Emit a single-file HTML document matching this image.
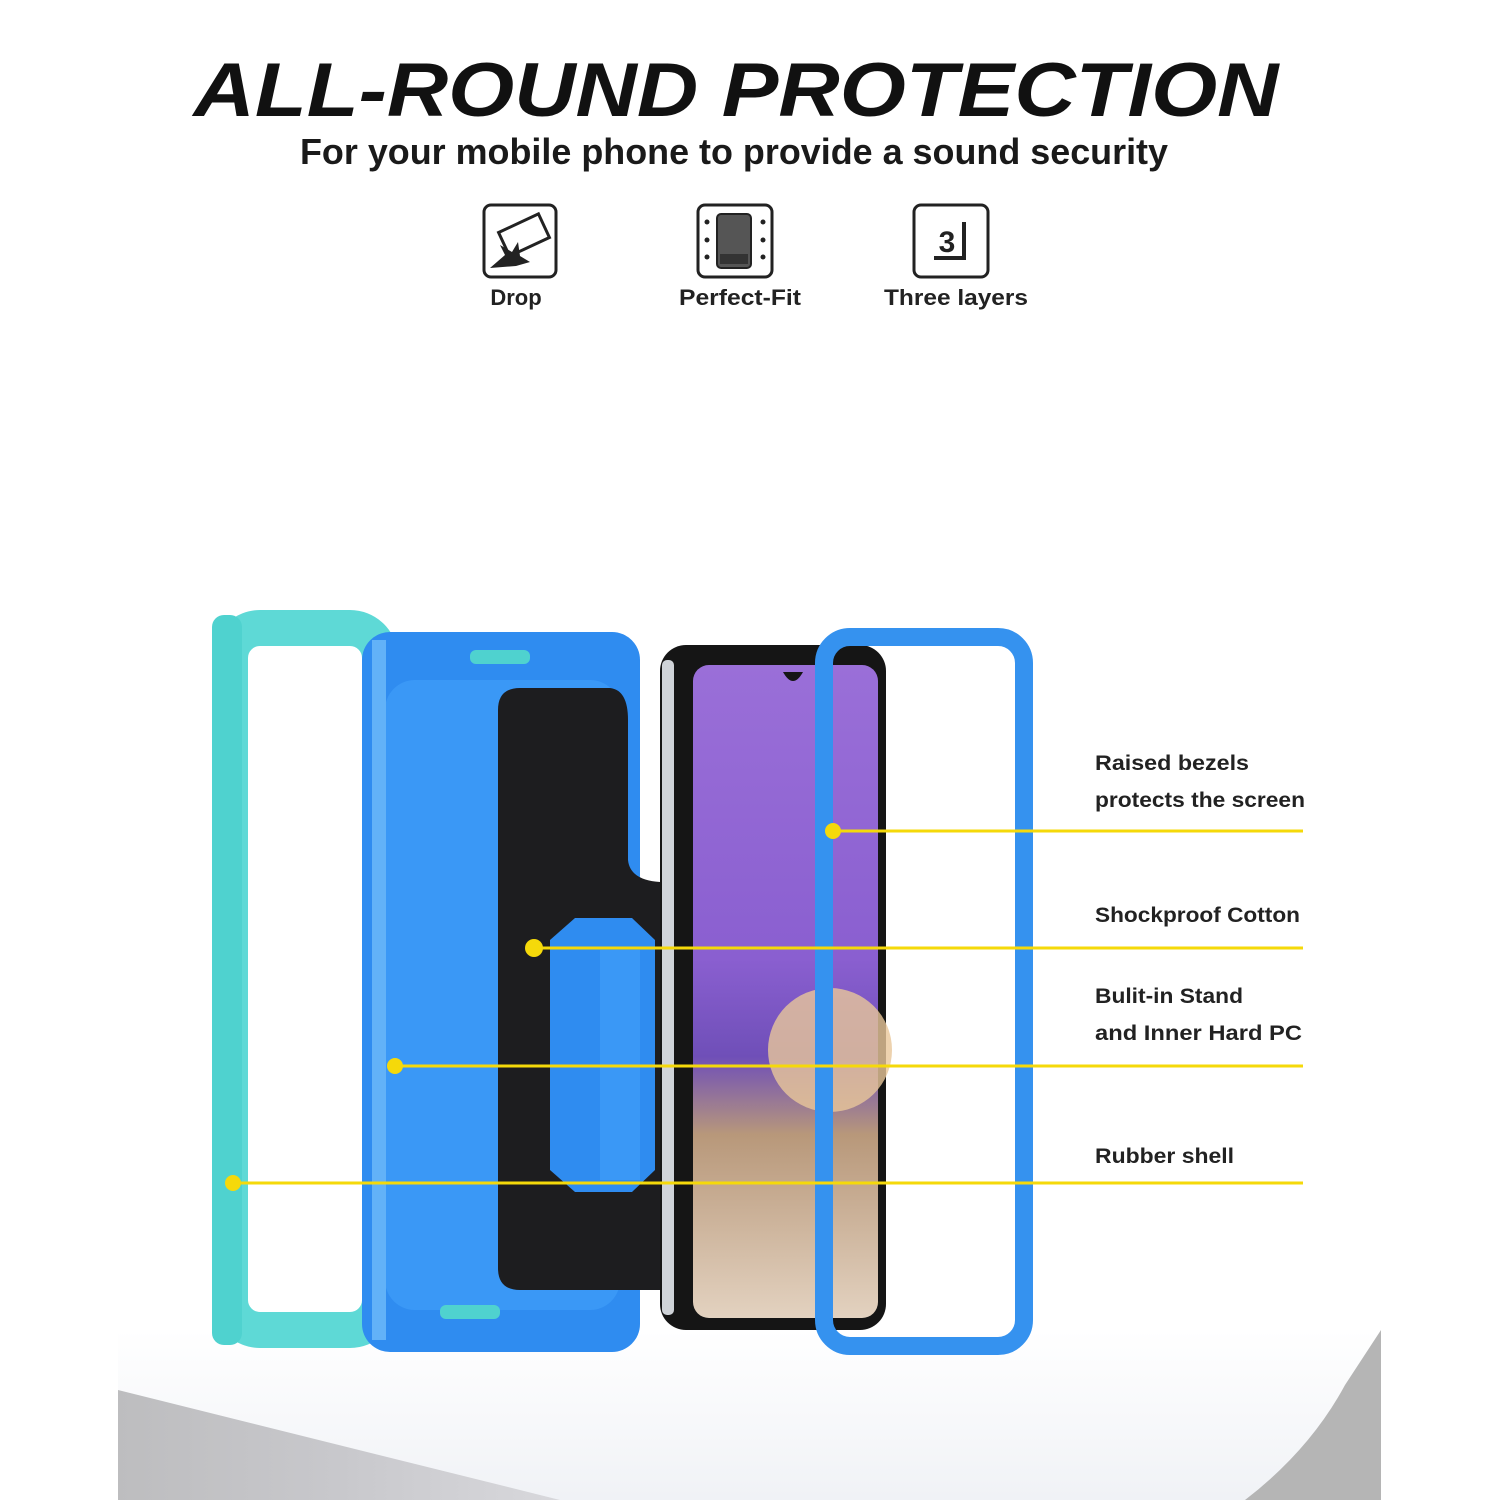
<!DOCTYPE html>
<html><head><meta charset="utf-8"><style>
html,body{margin:0;padding:0;background:#fff;}
svg{display:block;}
text{font-family:"Liberation Sans",sans-serif;}
</style></head><body>
<svg width="1500" height="1500" viewBox="0 0 1500 1500" xmlns="http://www.w3.org/2000/svg">
<defs>
<linearGradient id="floor" x1="0" y1="0" x2="1" y2="0">
<stop offset="0" stop-color="#bdbdbf"/><stop offset="0.5" stop-color="#c8c8cc"/><stop offset="1" stop-color="#d8d8dc"/>
</linearGradient>
<linearGradient id="top" x1="0" y1="0" x2="0" y2="1">
<stop offset="0" stop-color="#ffffff"/><stop offset="1" stop-color="#f0f2f6"/>
</linearGradient>
<linearGradient id="scr" x1="0" y1="0" x2="0" y2="1">
<stop offset="0" stop-color="#9a6fd8"/><stop offset="0.45" stop-color="#8a5fd0"/><stop offset="0.6" stop-color="#6f4fb8"/><stop offset="0.72" stop-color="#b8987a"/><stop offset="1" stop-color="#e3d2c0"/>
</linearGradient>
</defs>
<rect width="1500" height="1500" fill="#fff"/>
<polygon points="118,1330 1381,1330 1381,1500 118,1500" fill="url(#top)"/>
<polygon points="118,1390 560,1500 118,1500" fill="url(#floor)"/>
<path d="M1381 1330 L1345 1385 Q1310 1450 1245 1500 L1381 1500 Z" fill="#b5b5b5"/>

<text x="736" y="116" font-size="76" font-weight="bold" font-style="italic" text-anchor="middle" fill="#111" textLength="1085" lengthAdjust="spacingAndGlyphs">ALL-ROUND PROTECTION</text>
<text x="734" y="164" font-size="36" font-weight="bold" text-anchor="middle" fill="#1a1a1a" textLength="868" lengthAdjust="spacingAndGlyphs" style="font-weight:600">For your mobile phone to provide a sound security</text>

<!-- icons -->
<rect x="484" y="205" width="72" height="72" rx="7" fill="none" stroke="#222" stroke-width="3"/>
<rect x="502" y="222" width="44" height="26" transform="rotate(-25 524 235)" fill="none" stroke="#222" stroke-width="3"/>
<polygon points="490,268 505,255 500,245 512,252 518,242 520,256 530,262 516,266" fill="#222"/>
<rect x="698" y="205" width="74" height="72" rx="7" fill="none" stroke="#222" stroke-width="3"/>
<rect x="717" y="214" width="34" height="54" rx="4" fill="#555" stroke="#222" stroke-width="2"/>
<rect x="720" y="254" width="28" height="10" fill="#333"/>
<g fill="#222"><circle cx="707" cy="222" r="2.5"/><circle cx="707" cy="240" r="2.5"/><circle cx="707" cy="257" r="2.5"/><circle cx="763" cy="222" r="2.5"/><circle cx="763" cy="240" r="2.5"/><circle cx="763" cy="257" r="2.5"/></g>
<rect x="914" y="205" width="74" height="72" rx="7" fill="none" stroke="#222" stroke-width="3"/>
<text x="947" y="252" font-size="30" font-weight="bold" text-anchor="middle" fill="#222">3</text>
<path d="M964 222 V258 H934" fill="none" stroke="#222" stroke-width="4"/>
<g font-size="22" fill="#222" font-weight="bold" text-anchor="middle">
<text x="516" y="305">Drop</text>
<text x="740" y="305" textLength="122" lengthAdjust="spacingAndGlyphs">Perfect-Fit</text>
<text x="956" y="305" textLength="144" lengthAdjust="spacingAndGlyphs">Three layers</text>
</g>

<!-- teal frame -->
<rect x="230" y="628" width="150" height="702" rx="30" fill="none" stroke="#5ed9d6" stroke-width="36"/>
<rect x="212" y="615" width="30" height="730" rx="12" fill="#4fd2cf"/>
<!-- blue case -->
<rect x="362" y="632" width="278" height="720" rx="28" fill="#2f8cf0"/>
<rect x="385" y="680" width="235" height="630" rx="30" fill="#3a98f6"/>
<rect x="372" y="640" width="14" height="700" fill="#62b2f8"/>
<rect x="470" y="650" width="60" height="14" rx="6" fill="#4fd2cf"/>
<rect x="440" y="1305" width="60" height="14" rx="6" fill="#4fd2cf"/>
<!-- black cotton -->
<path d="M520 688 H610 Q628 690 628 720 V860 Q630 880 660 882 V1290 H520 Q498 1290 498 1268 V710 Q498 688 520 688 Z" fill="#1d1d1f"/>
<polygon points="575,918 632,918 655,940 655,1170 632,1192 575,1192 550,1170 550,940" fill="#2f8cf0"/>
<rect x="600" y="950" width="40" height="230" fill="#3a98f6"/>
<!-- phone -->
<rect x="660" y="645" width="226" height="685" rx="26" fill="#151515"/>
<rect x="662" y="660" width="12" height="655" rx="5" fill="#cfd3d8"/>
<rect x="693" y="665" width="185" height="653" rx="16" fill="url(#scr)"/>
<circle cx="830" cy="1050" r="62" fill="#e8c79a" opacity="0.8"/>
<path d="M783 672 q10 18 20 0 z" fill="#151515"/>
<!-- blue frame -->
<rect x="824" y="637" width="200" height="709" rx="26" fill="none" stroke="#3592ef" stroke-width="18"/>

<!-- yellow lines -->
<g stroke="#f5d90a" stroke-width="3">
<line x1="833" y1="831" x2="1303" y2="831"/>
<line x1="534" y1="948" x2="1303" y2="948"/>
<line x1="395" y1="1066" x2="1303" y2="1066"/>
<line x1="233" y1="1183" x2="1303" y2="1183"/>
</g>
<g fill="#f5d90a"><circle cx="833" cy="831" r="8"/><circle cx="534" cy="948" r="9"/><circle cx="395" cy="1066" r="8"/><circle cx="233" cy="1183" r="8"/></g>

<g font-size="21" fill="#222" font-weight="bold" lengthAdjust="spacingAndGlyphs">
<text x="1095" y="770" textLength="154" lengthAdjust="spacingAndGlyphs">Raised bezels</text>
<text x="1095" y="807" textLength="210" lengthAdjust="spacingAndGlyphs">protects the screen</text>
<text x="1095" y="922" textLength="205" lengthAdjust="spacingAndGlyphs">Shockproof Cotton</text>
<text x="1095" y="1003" textLength="148" lengthAdjust="spacingAndGlyphs">Bulit-in Stand</text>
<text x="1095" y="1040" textLength="207" lengthAdjust="spacingAndGlyphs">and Inner Hard PC</text>
<text x="1095" y="1163" textLength="139" lengthAdjust="spacingAndGlyphs">Rubber shell</text>
</g>
</svg>
</body></html>
